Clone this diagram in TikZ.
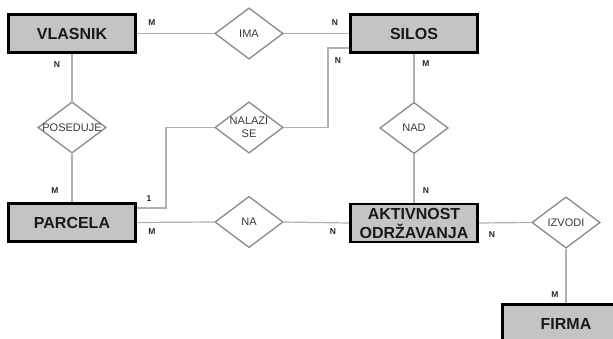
\documentclass[tikz,border=0pt]{standalone}
\usepackage{fontspec}
\setmainfont{Liberation Sans}
\usetikzlibrary{shapes.geometric}
\definecolor{linegray}{HTML}{B0B0B0}
\definecolor{diagray}{HTML}{8C8C8C}
\definecolor{boxfill}{HTML}{C4C4C4}
\definecolor{reltext}{HTML}{3A3A3A}
\begin{document}
\begin{tikzpicture}[x=1pt,y=-1pt,
  entity/.style={draw=black,line width=2.4pt,fill=boxfill,minimum width=127pt,minimum height=38pt,inner sep=0pt,
    font=\fontsize{16}{19}\selectfont\bfseries,text=black!90,align=center},
  rel/.style={draw=diagray,line width=1.2pt,fill=white,shape=diamond,minimum width=68pt,minimum height=51pt,inner sep=0pt},
  reltxt/.style={font=\fontsize{11}{13}\selectfont,text=reltext,align=center},
  conn/.style={draw=linegray,line width=1.2pt},
  card/.style={font=\fontsize{8.5}{9}\selectfont\bfseries,text=black!85,inner sep=0pt}]
\useasboundingbox (0,0) rectangle (613,339);
\clip (0,0) rectangle (613,339);
% entities
\node[entity] (VLASNIK) at (72,33.5) {VLASNIK};
\node[entity] (SILOS) at (414,33.5) {SILOS};
\node[entity] (PARCELA) at (72,222.5) {PARCELA};
\node[entity] (AKT) at (414,223) {AKTIVNOST\\ODRŽAVANJA};
\node[entity] (FIRMA) at (566,323.5) {FIRMA};
% relationships
\node[rel] (IMA) at (249,33.5) {};
\node[rel] (POS) at (72,127.5) {};
\node[rel] (NAL) at (249,127.5) {};
\node[rel] (NAD) at (414,128) {};
\node[rel] (NA) at (249,222) {};
\node[rel] (IZV) at (566,222.5) {};
% connectors
\coordinate (p1) at (166,208);
\coordinate (s1) at (328,48);
\path[conn] (VLASNIK.east) -- (IMA.west);
\path[conn] (IMA.east) -- (SILOS.west);
\path[conn] (VLASNIK.south) -- (POS.north);
\path[conn] (POS.south) -- (PARCELA.north);
\path[conn] (SILOS.south) -- (NAD.north);
\path[conn] (NAD.south) -- (AKT.north);
\path[conn] (PARCELA.east) -- (NA.west);
\path[conn] (NA.east) -- (AKT.west);
\path[conn] (AKT.east) -- (IZV.west);
\path[conn] (IZV.south) -- (FIRMA.north);
\path[conn] (PARCELA.east |- p1) -- (p1) |- (NAL.west);
\path[conn] (NAL.east) -| (s1) -- (SILOS.west |- s1);
% redraw shapes on top
\node[entity] at (VLASNIK) {VLASNIK};
\node[entity] at (SILOS) {SILOS};
\node[entity] at (PARCELA) {PARCELA};
\node[entity] at (AKT) {AKTIVNOST\\ODRŽAVANJA};
\node[entity] at (FIRMA) {FIRMA};
\node[rel] at (IMA) {};
\node[rel] at (POS) {};
\node[rel] at (NAL) {};
\node[rel] at (NAD) {};
\node[rel] at (NA) {};
\node[rel] at (IZV) {};
% relationship texts
\node[reltxt] (tIMA) at (IMA) {IMA};
\node[reltxt] (tPOS) at (POS) {POSEDUJE};
\node[reltxt] (tNAL) at (NAL) {NALAZI\\SE};
\node[reltxt] (tNAD) at (NAD) {NAD};
\node[reltxt] (tNA) at (NA) {NA};
\node[reltxt] (tIZV) at (IZV) {IZVODI};
% cardinalities
\node[card] (c1) at (152,23) {M};
\node[card] (c2) at (335,23) {N};
\node[card] (c3) at (57,65) {N};
\node[card] (c4) at (338,61) {N};
\node[card] (c5) at (426,64) {M};
\node[card] (c6) at (55,191) {M};
\node[card] (c7) at (149,199) {1};
\node[card] (c8) at (152,232) {M};
\node[card] (c9) at (426,191) {N};
\node[card] (c10) at (333,232) {N};
\node[card] (c11) at (492,235) {N};
\node[card] (c12) at (555,295) {M};
\end{tikzpicture}
\end{document}
